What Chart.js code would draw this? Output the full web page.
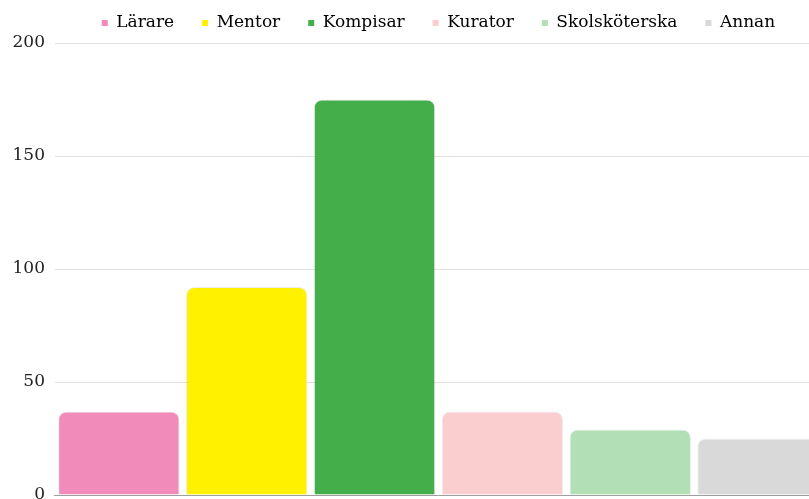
<!DOCTYPE html>
<html>
<head>
<meta charset="utf-8">
<script src="https://cdn.jsdelivr.net/npm/chart.js@4/dist/chart.umd.min.js"></script>
<style>
  html, body { margin: 0; padding: 0; background: #fff; overflow: hidden; }
  #wrap { position: absolute; left: 0; top: 0; width: 830px; height: 530px; }
</style>
</head>
<body>
<div id="wrap"><canvas id="chart"></canvas></div>
<script>
// roles asked about
const categories = ['Lärare', 'Mentor', 'Kompisar', 'Kurator', 'Skolsköterska', 'Annan'];
// answers per role
const values = [37, 92, 175, 37, 29, 25];
const colors = ['#F18BB9', '#FFF100', '#43AE4A', '#FACECF', '#B2DFB6', '#D9D9D9'];
const yTicks = [0, 50, 100, 150, 200];

const font = 'DejaVu Serif';

new Chart(document.getElementById('chart'), {
  type: 'bar',
  data: {
    labels: categories,
    datasets: [{
      data: values,
      backgroundColor: colors,
      borderColor: 'rgba(0,0,0,0.07)',
      borderWidth: 1,
      borderRadius: 8,
      barPercentage: 0.95,
      categoryPercentage: 1
    }]
  },
  options: {
    responsive: true,
    maintainAspectRatio: false,
    animation: false,
    layout: { padding: { top: -13.5, left: 2.5, right: 8, bottom: 35 } },
    plugins: {
      tooltip: { enabled: false },
      // empty strip between legend and plot, just for spacing
      subtitle: {
        display: true,
        text: ' ',
        weight: 500,
        font: { size: 1, lineHeight: 1 },
        padding: { top: 0, bottom: 0.5 }
      },
      legend: {
        position: 'top',
        fullSize: false,
        labels: {
          color: '#222',
          font: { family: font, size: 17 },
          boxWidth: 6,
          boxHeight: 6,
          padding: 28,
          generateLabels: () => categories.map((c, i) => ({
            text: c,
            fillStyle: colors[i],
            strokeStyle: colors[i],
            lineWidth: 0,
            hidden: false,
            index: i
          }))
        }
      }
    },
    scales: {
      x: {
        grid: { display: false, drawTicks: false },
        border: { display: true, color: '#9e9e9e', width: 1 },
        ticks: { display: false }
      },
      y: {
        min: yTicks[0],
        max: yTicks[yTicks.length - 1],
        grid: { color: '#e0e0e0', drawTicks: false },
        border: { display: false },
        afterBuildTicks: axis => { axis.ticks = yTicks.map(v => ({ value: v })); },
        ticks: {
          color: '#222',
          padding: 10,
          font: { family: font, size: 17 }
        }
      }
    }
  }
});
</script>
</body>
</html>
